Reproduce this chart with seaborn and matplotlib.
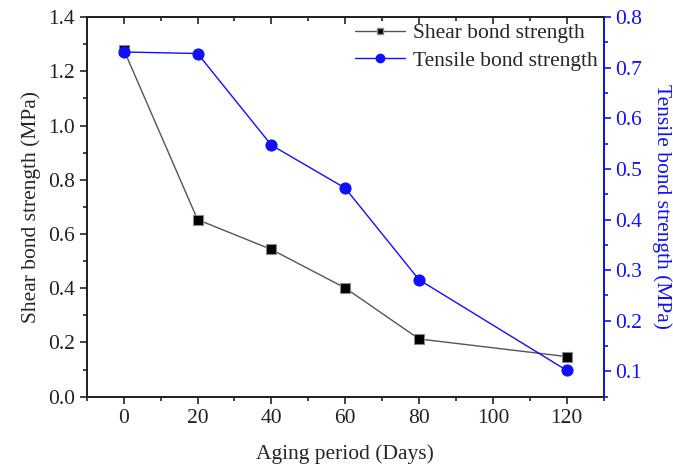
import seaborn as sns
import matplotlib.pyplot as plt
import pandas as pd
from matplotlib.ticker import MultipleLocator
from matplotlib.lines import Line2D

days = [0, 20, 40, 60, 80, 120]
shear_strength = [1.28, 0.653, 0.543, 0.401, 0.213, 0.148]
tensile_strength = [0.731, 0.728, 0.547, 0.462, 0.281, 0.102]

x_ticks = [0, 20, 40, 60, 80, 100, 120]

BLUE = '#1010ff'
FS = 15.5

sns.set_style("ticks")
plt.rcParams['font.family'] = ['Liberation Serif', 'DejaVu Serif']

df = pd.DataFrame({'days': days, 'shear': shear_strength, 'tensile': tensile_strength})

fig = plt.figure(figsize=(6.73, 4.74), dpi=100)
ax = fig.add_axes([0.129, 0.163, 0.768, 0.801])
ax2 = ax.twinx()

sns.lineplot(data=df, x='days', y='shear', ax=ax, color='#555555', lw=1,
             marker='s', markersize=6.5, markerfacecolor='black',
             markeredgecolor='#888888', markeredgewidth=0.8)
sns.lineplot(data=df, x='days', y='tensile', ax=ax2, color=BLUE, lw=1,
             marker='o', markersize=8, markerfacecolor=BLUE,
             markeredgecolor=BLUE)

ax.set_xlim(-10, 130)
ax.set_ylim(0, 1.4)
ax2.set_ylim(0.05, 0.8)
ax.set_xticks(x_ticks)
ax.xaxis.set_minor_locator(MultipleLocator(10))
ax.yaxis.set_major_locator(MultipleLocator(0.2))
ax.yaxis.set_minor_locator(MultipleLocator(0.1))
ax.yaxis.set_major_formatter(plt.FormatStrFormatter('%.1f'))
ax2.yaxis.set_major_locator(MultipleLocator(0.1))
ax2.yaxis.set_minor_locator(MultipleLocator(0.05))
ax2.yaxis.set_major_formatter(plt.FormatStrFormatter('%.1f'))

for a in (ax, ax2):
    for s in a.spines.values():
        s.set_linewidth(1.3)
        s.set_color('#222222')
        s.set_visible(True)
ax2.spines['right'].set_color(BLUE)

ax.tick_params(axis='both', which='major', direction='out', length=5, width=1.2,
               labelsize=FS, colors='#222222')
ax.tick_params(axis='both', which='minor', direction='out', length=3, width=1.2,
               colors='#222222')
ax2.tick_params(axis='y', which='major', direction='out', length=5, width=1.2,
                labelsize=FS, colors=BLUE)
ax2.tick_params(axis='y', which='minor', direction='out', length=3, width=1.2,
                colors=BLUE)

# top ticks pointing inward
top = ax.secondary_xaxis('top')
top.set_xticks(x_ticks)
top.xaxis.set_minor_locator(MultipleLocator(10))
top.tick_params(which='major', direction='in', length=5, width=1.2, labeltop=False)
top.tick_params(which='minor', direction='in', length=3, width=1.2)
top.spines['top'].set_linewidth(1.3)

ax.set_xlabel('Aging period (Days)', fontsize=FS, labelpad=12)
ax.set_ylabel('Shear bond strength (MPa)', fontsize=FS, labelpad=5)
ax2.set_ylabel('Tensile bond strength (MPa)', fontsize=FS, color=BLUE,
               rotation=270, labelpad=21)

handles = [
    Line2D([], [], color='#555555', lw=1, marker='s', markersize=5,
           markerfacecolor='black', markeredgecolor='#888888'),
    Line2D([], [], color=BLUE, lw=1, marker='o', markersize=6,
           markerfacecolor=BLUE, markeredgecolor=BLUE),
]
ax.legend(handles, ['Shear bond strength', 'Tensile bond strength'],
          loc='upper right', bbox_to_anchor=(1.01, 1.012), frameon=False,
          fontsize=FS, handlelength=2.3, handletextpad=0.4,
          labelspacing=0.35, borderaxespad=0.1)

fig.savefig('out.png', dpi=100)
